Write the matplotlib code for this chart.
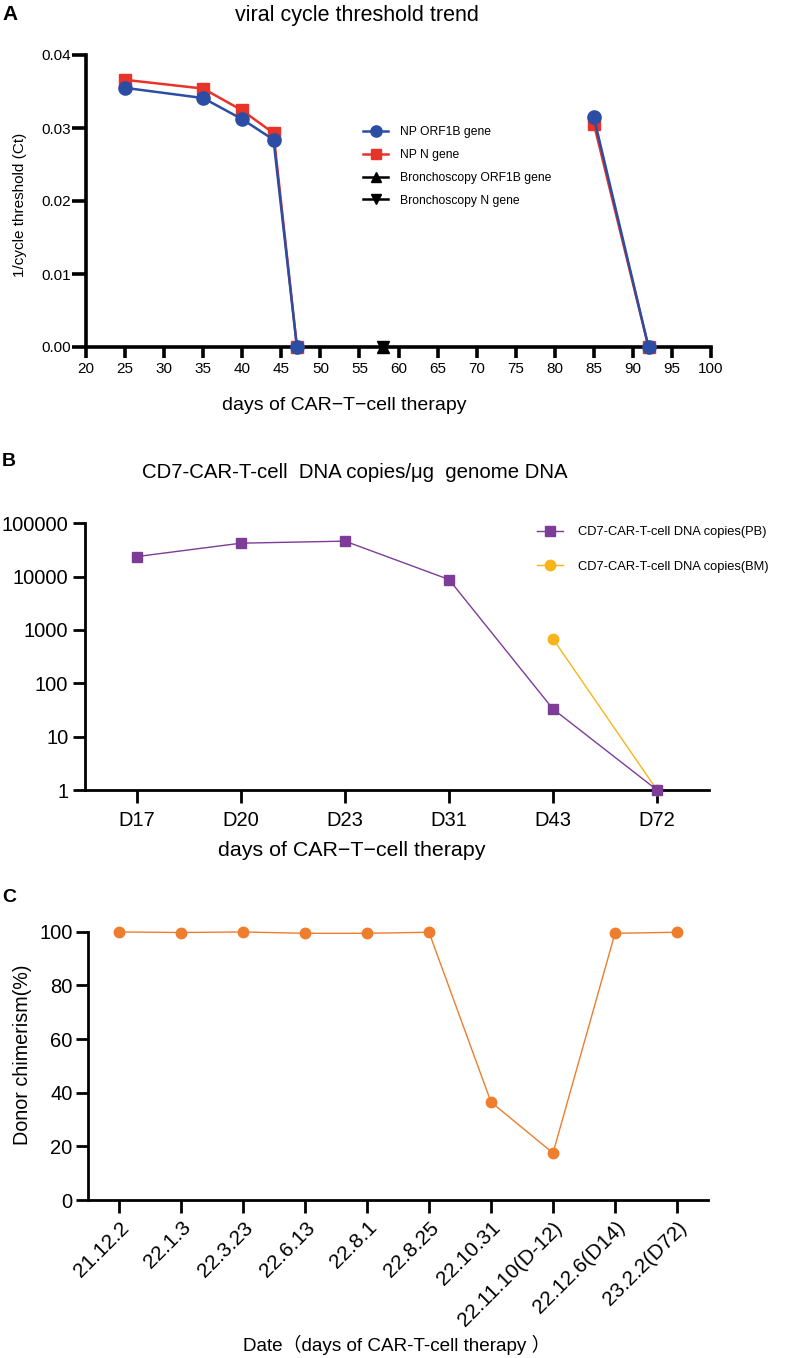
import numpy as np
import matplotlib
matplotlib.use("Agg")
import matplotlib.pyplot as plt
from matplotlib.ticker import FixedLocator, FixedFormatter

plt.rcParams["font.family"] = ["Liberation Sans", "DejaVu Sans"]

W, H = 800, 1358

# panel A: viral cycle threshold
days_np = [25, 35, 40, 44, 47, np.nan, 85, 92]
np_orf1b = [0.0355, 0.0341, 0.0312, 0.0284, 0.0, np.nan, 0.0315, 0.0]
np_n = [0.0366, 0.0354, 0.0324, 0.0293, 0.0, np.nan, 0.0306, 0.0]
days_broncho = [58]
broncho_orf1b = [0.0]
broncho_n = [0.0]

# panel B: CAR-T DNA copies
b_days = ["D17", "D20", "D23", "D31", "D43", "D72"]
pb_copies = [23800, 42400, 46300, 8830, 33, 1]
bm_days = ["D43", "D72"]
bm_copies = [680, 1]

# panel C: donor chimerism
c_dates = ["21.12.2", "22.1.3", "22.3.23", "22.6.13", "22.8.1", "22.8.25",
           "22.10.31", "22.11.10(D-12)", "22.12.6(D14)", "23.2.2(D72)"]
chimerism = [99.9, 99.7, 99.9, 99.4, 99.4, 99.8, 36.5, 17.5, 99.4, 99.8]

BLUE = "#2B4DA3"
RED = "#E8332A"
PURPLE = "#7D3C98"
YELLOW = "#F7B519"
ORANGE = "#EE7D2E"


def fx(x):
    return x / W


def fy(y):
    return 1 - y / H


def axes_px(left, top, right, bottom):
    return fig.add_axes([fx(left), fy(bottom), (right - left) / W, (bottom - top) / H])


def style_axes(ax, lw):
    for s in ("top", "right"):
        ax.spines[s].set_visible(False)
    for s in ("left", "bottom"):
        ax.spines[s].set_linewidth(lw)


fig = plt.figure(figsize=(W / 100, H / 100), dpi=100)

# ---------------- A ----------------
axA = axes_px(86, 55, 711, 347)
style_axes(axA, 2.6)
axA.plot(days_np, np_n, color=RED, marker="s", markersize=9, lw=1.8, clip_on=False, zorder=3,
         label="NP N gene")
axA.plot(days_np, np_orf1b, color=BLUE, marker="o", markersize=9.5, lw=1.8, clip_on=False, zorder=4,
         label="NP ORF1B gene")
axA.plot(days_broncho, broncho_orf1b, color="black", marker="^", markersize=9, lw=1.8,
         clip_on=False, zorder=5, label="Bronchoscopy ORF1B gene")
axA.plot(days_broncho, broncho_n, color="black", marker="v", markersize=9, lw=1.8,
         clip_on=False, zorder=5, label="Bronchoscopy N gene")
axA.set_xlim(20, 100)
axA.set_ylim(0, 0.04)
axA.set_xticks(np.arange(20, 101, 5))
axA.set_yticks([0, 0.01, 0.02, 0.03, 0.04])
axA.set_yticklabels(["0.00", "0.01", "0.02", "0.03", "0.04"])
axA.tick_params(axis="x", length=8, width=2.6, labelsize=11, pad=3)
axA.tick_params(axis="y", length=10, width=2.6, labelsize=11, pad=1)
h, l = axA.get_legend_handles_labels()
order = [1, 0, 2, 3]
fig.legend([h[i] for i in order], [l[i] for i in order], loc="upper left",
           bbox_to_anchor=(fx(363), fy(126)), frameon=False, fontsize=8.7,
           borderpad=0, borderaxespad=0, handlelength=2.1, handletextpad=1.0,
           labelspacing=0.9, markerscale=0.85)
fig.text(fx(357), fy(15), "viral cycle threshold trend", ha="center", va="center", fontsize=15.5)
fig.text(fx(20), fy(205), "1/cycle threshold (Ct)", ha="center", va="center", rotation=90,
         fontsize=11)
fig.text(fx(344), fy(405), "days of CAR\u2212T\u2212cell therapy", ha="center", va="center",
         fontsize=14)
fig.text(fx(2), fy(15), "A", ha="left", va="center", fontsize=15, fontweight="bold")

# ---------------- B ----------------
axB = axes_px(85, 523.3, 709, 790)
style_axes(axB, 2.0)
xb = np.arange(len(b_days))
xbm = [b_days.index(d) for d in bm_days]
axB.plot(xb, pb_copies, color=PURPLE, marker="s", markersize=7.5, lw=1.0, clip_on=False,
         zorder=3, label="CD7-CAR-T-cell DNA copies(PB)")
axB.plot(xbm, bm_copies, color=YELLOW, marker="o", markersize=7.5, lw=1.0, clip_on=False,
         zorder=2, label="CD7-CAR-T-cell DNA copies(BM)")
axB.set_yscale("log")
axB.set_ylim(1, 100000)
axB.set_xlim(-0.5, len(b_days) - 0.5)
axB.yaxis.set_major_locator(FixedLocator([1, 10, 100, 1000, 10000, 100000]))
axB.yaxis.set_major_formatter(FixedFormatter(["1", "10", "100", "1000", "10000", "100000"]))
axB.yaxis.set_minor_locator(FixedLocator([]))
axB.set_xticks(xb)
axB.set_xticklabels(b_days)
axB.tick_params(axis="x", length=9, width=2.0, labelsize=14.5, pad=6)
axB.tick_params(axis="y", length=9, width=2.0, labelsize=14.5, pad=3)
axB.legend(loc="upper left", bbox_to_anchor=(fx(537), fy(526)), bbox_transform=fig.transFigure,
           frameon=False, fontsize=9.3, borderpad=0, borderaxespad=0, handlelength=2.0,
           handletextpad=1.2, labelspacing=1.75)
fig.text(fx(355), fy(473), "CD7-CAR-T-cell  DNA copies/\u03bcg  genome DNA", ha="center",
         va="center", fontsize=14.7)
fig.text(fx(352), fy(850), "days of CAR\u2212T\u2212cell therapy", ha="center", va="center",
         fontsize=15.4)
fig.text(fx(2), fy(462), "B", ha="left", va="center", fontsize=14, fontweight="bold")

# ---------------- C ----------------
axC = axes_px(88, 931.7, 708, 1200)
style_axes(axC, 2.0)
xc = np.arange(len(c_dates))
axC.plot(xc, chimerism, color=ORANGE, marker="o", markersize=7.5, lw=1.0, clip_on=False, zorder=3)
axC.set_xlim(-0.5, len(c_dates) - 0.5)
axC.set_ylim(0, 100)
axC.set_yticks([0, 20, 40, 60, 80, 100])
axC.set_xticks(xc)
axC.set_xticklabels(c_dates, rotation=45, ha="right", rotation_mode="anchor")
axC.tick_params(axis="x", length=9, width=2.0, labelsize=15, pad=4)
axC.tick_params(axis="y", length=9, width=2.0, labelsize=14.5, pad=2)
fig.text(fx(23), fy(1055), "Donor chimerism(%)", ha="center", va="center", rotation=90,
         fontsize=14.2)
fig.text(fx(397), fy(1345), "Date\uff08days of CAR-T-cell therapy \uff09", ha="center", va="center",
         fontsize=13.6, family=["Liberation Sans", "Noto Sans CJK SC"])
fig.text(fx(2), fy(897), "C", ha="left", va="center", fontsize=14, fontweight="bold")

fig.savefig("out.png", dpi=100)
